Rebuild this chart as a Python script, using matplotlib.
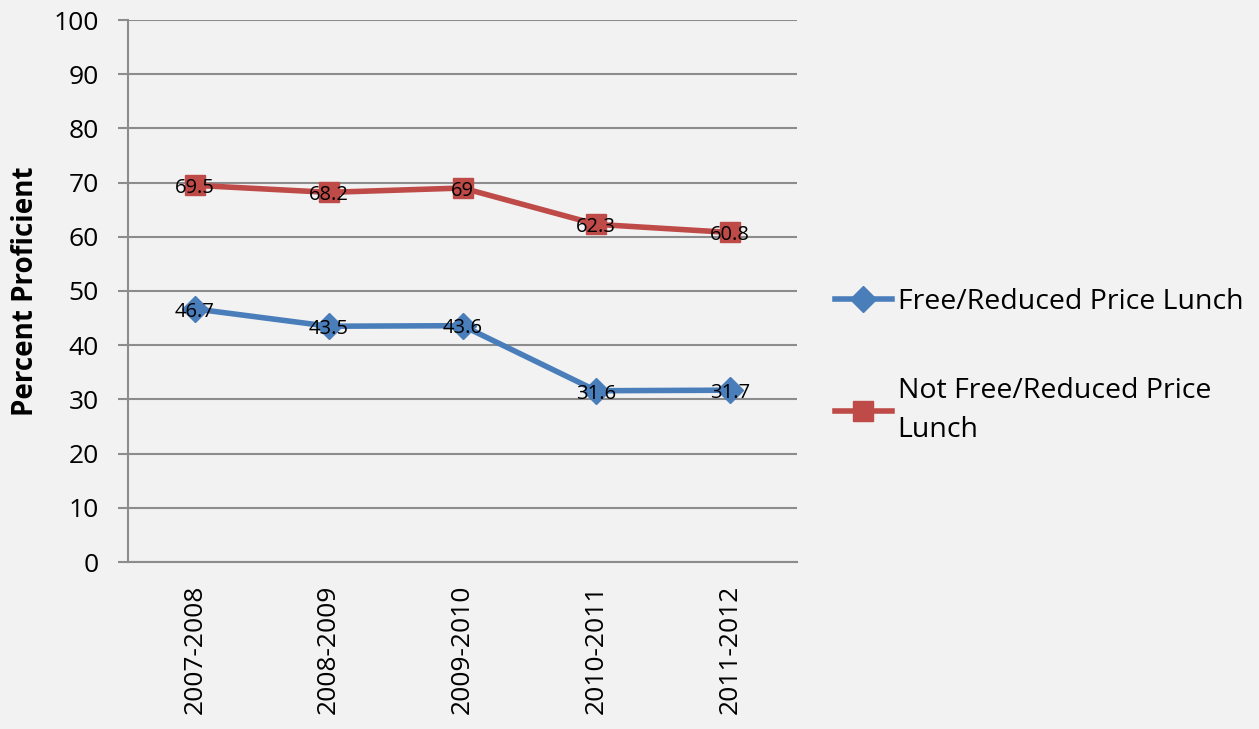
import numpy as np
import matplotlib.pyplot as plt

# dane
years = ['2007-2008', '2008-2009', '2009-2010', '2010-2011', '2011-2012']
free_lunch = [46.7, 43.5, 43.6, 31.6, 31.7]
not_free_lunch = [69.5, 68.2, 69, 62.3, 60.8]
series_names = ['Free/Reduced Price Lunch', 'Not Free/Reduced Price\nLunch']
y_ticks = list(range(0, 101, 10))

BG = '#f2f2f2'
BLUE = '#4a7ebb'
RED = '#be4b48'
GRID = '#8c8c8c'

plt.rcParams['font.family'] = ['Open Sans', 'DejaVu Sans']

def main():
    fig = plt.figure(figsize=(12.59, 7.29), dpi=100, facecolor=BG)
    ax = fig.add_axes([128 / 1259, 1 - 562 / 729, (797 - 128) / 1259, (562 - 20) / 729])
    ax.set_facecolor(BG)

    x = np.arange(len(years))
    ax.plot(x, free_lunch, color=BLUE, lw=4, marker='D', ms=13,
            label=series_names[0], zorder=3)
    ax.plot(x, not_free_lunch, color=RED, lw=4, marker='s', ms=14,
            label=series_names[1], zorder=3)

    # etykiety wartości
    for xi, v in zip(x, free_lunch):
        ax.annotate(f'{v:g}', (xi, v), xytext=(0, -2), textcoords='offset points',
                    ha='center', va='center', fontsize=14.5, zorder=4)
    for xi, v in zip(x, not_free_lunch):
        ax.annotate(f'{v:g}', (xi, v), xytext=(0, -2), textcoords='offset points',
                    ha='center', va='center', fontsize=14.5, zorder=4)

    ax.set_xlim(-0.5, len(years) - 0.5)
    ax.set_ylim(0, 100)
    ax.set_yticks(y_ticks)
    ax.set_xticks(x)
    ax.set_xticklabels(years, rotation=90, fontsize=19)
    ax.tick_params(axis='x', length=0, pad=16)
    ax.tick_params(axis='y', length=7, width=1.5, color=GRID, labelsize=19, pad=14)
    ax.grid(axis='y', color=GRID, lw=1.5, zorder=1)
    ax.set_axisbelow(True)

    for side in ['top', 'right']:
        ax.spines[side].set_visible(False)
    for side in ['left', 'bottom']:
        ax.spines[side].set_color(GRID)
        ax.spines[side].set_linewidth(1.5)

    ax.set_ylabel('Percent Proficient', fontsize=20, fontweight='bold', labelpad=10)

    leg = ax.legend(loc='center left', bbox_to_anchor=(835 / 1259, 1 - 366 / 729),
                    bbox_transform=fig.transFigure, frameon=False, fontsize=20.5,
                    handlelength=2.0, handletextpad=0.2, labelspacing=2.15,
                    borderpad=0, borderaxespad=0)
    for t in leg.get_texts():
        t.set_linespacing(1.5)

    fig.savefig('out.png', dpi=100, facecolor=BG)
    plt.close(fig)

if __name__ == "__main__":
    main()
